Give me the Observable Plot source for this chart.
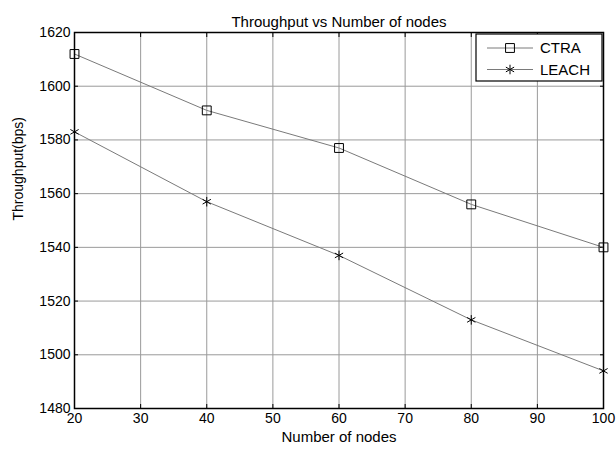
<!DOCTYPE html>
<html><head><meta charset="utf-8">
<script src="https://cdn.jsdelivr.net/npm/d3@7"></script>
<script src="https://cdn.jsdelivr.net/npm/@observablehq/plot@0.6"></script>
<style>
body{margin:0;background:#fff}
#chart{position:relative;width:616px;height:453px}
svg{font-family:"Liberation Sans",Arial,sans-serif}
</style>
</head><body><div id="chart"></div>
<script>
const nodes = [20, 40, 60, 80, 100];
const ctra = [1612, 1591, 1577, 1556, 1540];
const leach = [1583, 1557, 1537, 1513, 1494];
const seriesNames = ["CTRA", "LEACH"];
const xTicks = [20, 30, 40, 50, 60, 70, 80, 90, 100];
const yTicks = [1480, 1500, 1520, 1540, 1560, 1580, 1600, 1620];
const titleText = "Throughput vs Number of nodes";
const xLabel = "Number of nodes";
const yLabel = "Throughput(bps)";

const rows = [
  ...nodes.map((n, i) => ({series: seriesNames[0], nodes: n, value: ctra[i]})),
  ...nodes.map((n, i) => ({series: seriesNames[1], nodes: n, value: leach[i]}))
];
const symbolOf = {CTRA: "square", LEACH: "asterisk"};

const W = 616, H = 453;
const mL = 74, mR = 13, mT = 32, mB = 45;
const noLabel = () => "";

const tickAxes = [
  Plot.axisX(xTicks, {anchor: "bottom", tickSize: -4, tickFormat: noLabel, stroke: "black", label: null}),
  Plot.axisX(xTicks, {anchor: "top", tickSize: -4, tickFormat: noLabel, stroke: "black", label: null}),
  Plot.axisY(yTicks, {anchor: "left", tickSize: -4, tickFormat: noLabel, stroke: "black", label: null}),
  Plot.axisY(yTicks, {anchor: "right", tickSize: -4, tickFormat: noLabel, stroke: "black", label: null})
];

const chart = Plot.plot({
  width: W, height: H,
  marginLeft: mL, marginRight: mR, marginTop: mT, marginBottom: mB,
  style: {fontFamily: '"Liberation Sans", Arial, sans-serif', fontSize: "13px", color: "black", background: "white"},
  x: {domain: [20, 100], label: null},
  y: {domain: [1480, 1620], label: null},
  marks: [
    Plot.ruleX(xTicks, {x: d => d, stroke: "#9a9a9a", strokeWidth: 1}),
    Plot.ruleY(yTicks, {y: d => d, stroke: "#9a9a9a", strokeWidth: 1}),
    Plot.axisX(xTicks, {anchor: "bottom", tickSize: 0, tickPadding: 5, fontSize: 14, tickFormat: "d", label: null}),
    Plot.axisY(yTicks, {anchor: "left", tickSize: 0, tickPadding: 4, fontSize: 14, tickFormat: "d", label: null}),
    ...tickAxes,
    Plot.line(rows, {x: "nodes", y: "value", z: "series", stroke: "#7a7a7a", strokeWidth: 1}),
    Plot.dot(rows.filter(d => d.series === "CTRA"), {x: "nodes", y: "value", symbol: "square", r: 5, stroke: "black", strokeWidth: 1, fill: "none"}),
    Plot.dot(rows.filter(d => d.series === "LEACH"), {x: "nodes", y: "value", symbol: "asterisk", r: 4.5, stroke: "black", strokeWidth: 1}),
    Plot.frame({stroke: "black", strokeWidth: 1.5}),
    Plot.text([titleText], {frameAnchor: "top", dy: -16, fontSize: 15, fill: "black"}),
    Plot.text([xLabel], {frameAnchor: "bottom", dy: 33, fontSize: 15, fill: "black"}),
    Plot.text([yLabel], {frameAnchor: "left", dx: -56, rotate: -90, fontSize: 14, fill: "black"})
  ]
});
document.getElementById("chart").appendChild(chart);

// legend box (top-right, inside the plot frame)
const svg = d3.select(chart);
const lx = 476, ly = 34, lw = 126, lh = 47;
const g = svg.append("g").attr("class", "legend");
g.append("rect").attr("x", lx).attr("y", ly).attr("width", lw).attr("height", lh)
  .attr("fill", "white").attr("stroke", "black").attr("stroke-width", 1.2);
seriesNames.forEach((name, i) => {
  const cy = ly + 14 + i * 21.5;
  g.append("line").attr("x1", lx + 11).attr("x2", lx + 57).attr("y1", cy).attr("y2", cy)
    .attr("stroke", "#7a7a7a").attr("stroke-width", 1);
  const sym = symbolOf[name] === "square" ? d3.symbolSquare : d3.symbolAsterisk;
  const r = symbolOf[name] === "square" ? 5 : 4.5;
  g.append("path").attr("d", d3.symbol(sym, Math.PI * r * r)())
    .attr("transform", `translate(${lx + 34},${cy})`)
    .attr("fill", "none").attr("stroke", "black").attr("stroke-width", 1);
  g.append("text").attr("x", lx + 64).attr("y", cy).attr("dy", "0.35em")
    .attr("text-anchor", "start")
    .attr("font-size", 15).attr("fill", "black").text(name);
});
</script>
</body></html>
